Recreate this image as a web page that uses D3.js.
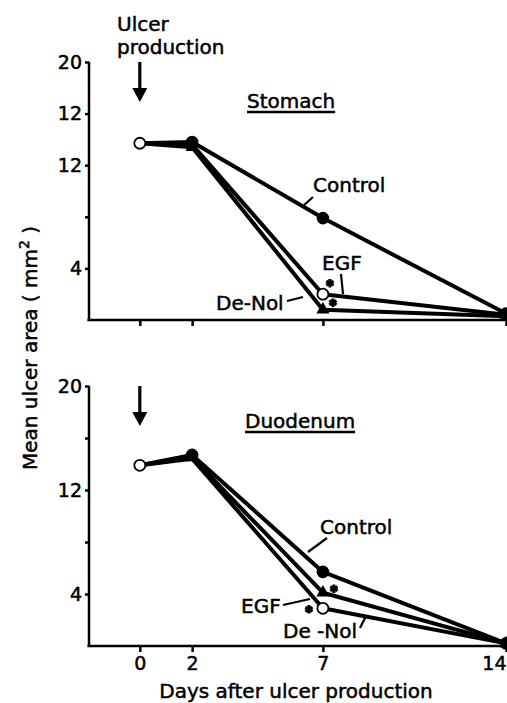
<!DOCTYPE html>
<html>
<head>
<meta charset="utf-8">
<script src="https://cdn.jsdelivr.net/npm/d3@7"></script>
<style>
  body { margin: 0; background: #fff; }
  text { font-family: "DejaVu Sans", sans-serif; fill: #000; stroke: #000; stroke-width: 0.5px; }
</style>
</head>
<body>
<div id="chart"></div>
<script>
// Values (mean ulcer area, mm2)
const days = [0, 2, 7, 14];
const stomachControl = [13.7, 13.8, 7.9, 0.5];
const stomachEGF = [13.7, 13.6, 2.0, 0.4];
const stomachDeNol = [13.7, 13.4, 0.8, 0.3];
const duodenumControl = [13.9, 14.7, 5.7, 0.2];
const duodenumEGF = [13.9, 14.4, 2.9, 0.2];
const duodenumDeNol = [13.9, 14.5, 4.1, 0.2];

const yTicks = [4, 8, 12, 16, 20];
const stomachTickLabels = ["4", "", "12", "12", "20"];
const duodenumTickLabels = ["4", "", "12", "", "20"];
const dayLabels = ["0", "2", "7", "14"];

const width = 507, height = 703;

const svg = d3.select("#chart")
    .append("svg")
    .attr("width", width)
    .attr("height", height);

// shared x scale (axis line starts a bit before day 0)
const x = d3.scaleLinear().domain([-2, 14]).range([87.5, 506]);

const panels = [
    {
        name: "Stomach",
        y: d3.scaleLinear().domain([0, 20]).range([320, 62]),
        labels: stomachTickLabels,
        series: { Control: stomachControl, EGF: stomachEGF, DeNol: stomachDeNol },
        stars: [{ s: "EGF", dx: 7, dy: -11 }, { s: "DeNol", dx: 10, dy: -7 }],
        title: { x: 247, y: 108 },
        notes: [
            { t: "Control", x: 313, y: 192, l: [302, 207, 313, 197] },
            { t: "EGF", x: 322, y: 270, l: [341, 274, 343, 294] },
            { t: "De-Nol", x: 216, y: 310, l: [287, 301, 303, 297] }
        ],
        showDays: false
    },
    {
        name: "Duodenum",
        y: d3.scaleLinear().domain([0, 20]).range([646, 386]),
        labels: duodenumTickLabels,
        series: { Control: duodenumControl, EGF: duodenumEGF, DeNol: duodenumDeNol },
        stars: [{ s: "DeNol", dx: 11, dy: -4 }, { s: "EGF", dx: -14, dy: 1 }],
        title: { x: 245, y: 428 },
        notes: [
            { t: "Control", x: 320, y: 534, l: [308, 552, 327, 538] },
            { t: "EGF", x: 241, y: 613, l: [283, 605, 310, 599] },
            { t: "De -Nol", x: 283, y: 638, l: [360, 628, 366, 616] }
        ],
        showDays: true
    }
];

panels.forEach(p => {
    const g = svg.append("g");
    const y = p.y;

    // axes
    const xAxis = d3.axisBottom(x).tickValues(days).tickSize(6).tickSizeOuter(0)
        .tickPadding(5)
        .tickFormat((d, i) => p.showDays ? dayLabels[i] : "");
    g.append("g")
        .attr("transform", `translate(0,${y(0)})`)
        .call(xAxis)
        .call(a => a.select(".domain").attr("d", `M${x(-2)},0H${width}`))
        .call(a => a.selectAll("path, line").attr("stroke", "#000").attr("stroke-width", 2.5))
        .call(a => a.selectAll("text").attr("font-size", 19).attr("font-family", "DejaVu Sans Condensed, DejaVu Sans"))
        // last label sits at the page edge: keep it inside
        .call(a => a.selectAll(".tick text").filter(d => d === 14)
            .attr("text-anchor", "end").attr("x", width - x(14) - 1));

    const yAxis = d3.axisLeft(y).tickValues(yTicks).tickSize(4).tickSizeOuter(0)
        .tickPadding(3)
        .tickFormat((d, i) => p.labels[i]);
    g.append("g")
        .attr("transform", `translate(${x(-2) + 1.5},0)`)
        .call(yAxis)
        .call(a => a.select(".domain").attr("d", `M0,${y(20)}V${y(0) + 1}`))
        .call(a => a.selectAll("path, line").attr("stroke", "#000").attr("stroke-width", 2.5))
        .call(a => a.selectAll("text").attr("font-size", 19).attr("font-family", "DejaVu Sans Condensed, DejaVu Sans"));

    // lines
    const line = d3.line().x((d, i) => x(days[i])).y(d => y(d));
    ["Control", "EGF", "DeNol"].forEach(k => {
        g.append("path")
            .attr("d", line(p.series[k]))
            .attr("fill", "none")
            .attr("stroke", "#000")
            .attr("stroke-width", 4)
            .attr("stroke-linejoin", "round");
    });

    // markers
    g.selectAll(".tri")
        .data(p.series.DeNol.map((v, i) => ({ d: days[i], v })).filter(o => o.d > 0))
        .join("path")
        .attr("d", d3.symbol(d3.symbolTriangle, 75))
        .attr("transform", o => `translate(${x(o.d)},${y(o.v)})`)
        .attr("fill", "#000");

    g.selectAll(".open")
        .data(p.series.EGF.map((v, i) => ({ d: days[i], v })).filter(o => o.d !== 2 && o.d !== 14))
        .join("circle")
        .attr("cx", o => x(o.d))
        .attr("cy", o => y(o.v))
        .attr("r", 5.5)
        .attr("fill", "#fff")
        .attr("stroke", "#000")
        .attr("stroke-width", 1.8);

    g.selectAll(".filled")
        .data(p.series.Control.map((v, i) => ({ d: days[i], v })).filter(o => o.d > 0))
        .join("circle")
        .attr("cx", o => x(o.d))
        .attr("cy", o => y(o.v))
        .attr("r", 6.3)
        .attr("fill", "#000");

    // significance asterisks at day 7
    p.stars.forEach(s => {
        g.append("path")
            .attr("d", d3.symbol(d3.symbolAsterisk, 50)())
            .attr("transform", `translate(${x(7) + s.dx},${y(p.series[s.s][2]) + s.dy})`)
            .attr("stroke", "#000")
            .attr("stroke-width", 3)
            .attr("fill", "none");
    });

    // panel title, underlined
    const t = g.append("text")
        .attr("x", p.title.x)
        .attr("y", p.title.y)
        .attr("font-size", 20)
        .text(p.name);
    const tw = t.node().getComputedTextLength();
    g.append("line")
        .attr("x1", p.title.x).attr("x2", p.title.x + tw)
        .attr("y1", p.title.y + 4).attr("y2", p.title.y + 4)
        .attr("stroke", "#000").attr("stroke-width", 2.5);

    // series labels with leader lines
    p.notes.forEach(n => {
        g.append("text").attr("x", n.x).attr("y", n.y).attr("font-size", 20).text(n.t);
        g.append("line")
            .attr("x1", n.l[0]).attr("y1", n.l[1])
            .attr("x2", n.l[2]).attr("y2", n.l[3])
            .attr("stroke", "#000").attr("stroke-width", 2.2);
    });

    // ulcer production arrow
    g.append("line")
        .attr("x1", x(0)).attr("x2", x(0))
        .attr("y1", y(20)).attr("y2", y(20) + 28)
        .attr("stroke", "#000").attr("stroke-width", 3.2);
    g.append("path")
        .attr("d", `M${x(0) - 7.5},${y(20) + 26}L${x(0) + 7.5},${y(20) + 26}L${x(0)},${y(20) + 40}Z`)
        .attr("fill", "#000");
});

// "Ulcer production" heading
svg.append("text").attr("x", 117).attr("y", 31).attr("font-size", 20).text("Ulcer");
svg.append("text").attr("x", 117).attr("y", 54).attr("font-size", 20).text("production");

// axis titles
svg.append("text")
    .attr("x", 296).attr("y", 698)
    .attr("text-anchor", "middle")
    .attr("font-size", 20)
    .text("Days after ulcer production");

const yl = svg.append("text")
    .attr("transform", "translate(37,348) rotate(-90)")
    .attr("text-anchor", "middle")
    .attr("font-size", 20);
yl.append("tspan").text("Mean ulcer area  ( mm");
yl.append("tspan").attr("font-size", 14).attr("dy", -8).text("2");
yl.append("tspan").attr("dy", 8).text(" )");
</script>
</body>
</html>
